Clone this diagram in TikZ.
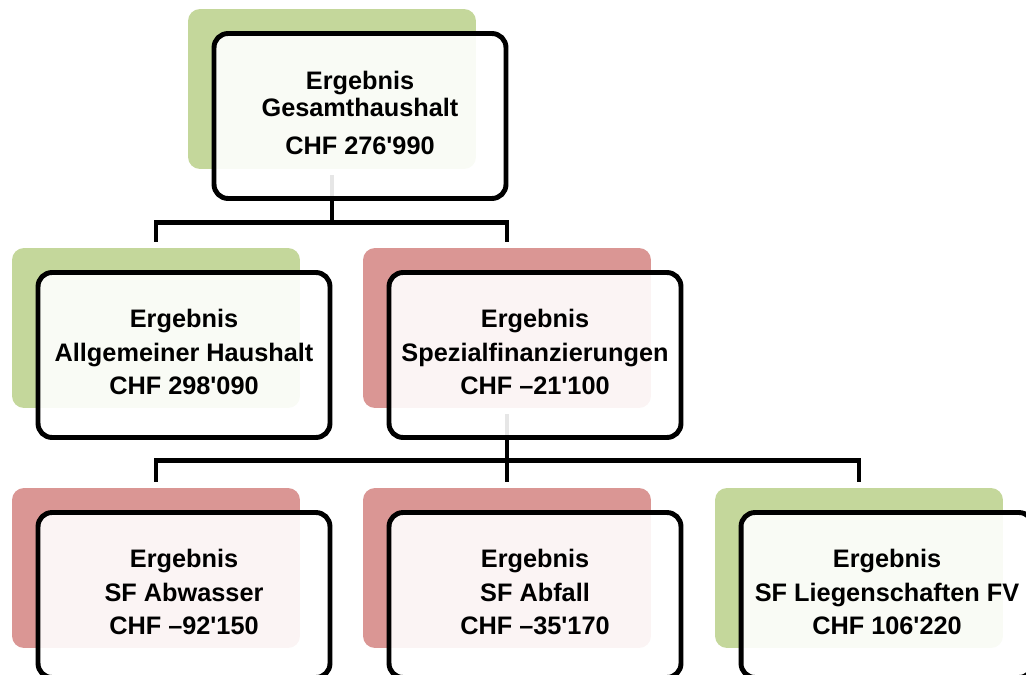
\documentclass[tikz,border=0pt]{standalone}
\usepackage{fontspec}
\setmainfont{Liberation Sans}[Ligatures=TeXOff]
\definecolor{plusgreen}{HTML}{C4D79B}
\definecolor{minusred}{HTML}{DA9694}

\begin{document}
\begin{tikzpicture}[x=0.02cm, y=-0.02cm,
  back/.style={rectangle, rounded corners=0.24cm, inner sep=0pt,
    minimum width=5.76cm, minimum height=3.2cm},
  front/.style={rectangle, draw=black, line width=2.8pt, rounded corners=0.28cm,
    fill=white, fill opacity=0.9, text opacity=1, inner sep=0pt,
    minimum width=5.84cm, minimum height=3.3cm, align=center, text depth=3.6pt,
    font=\bfseries\fontsize{14.4pt}{19.3pt}\selectfont},
  link/.style={line width=2.5pt, shorten <=0.12cm, shorten >=0.12cm}]
\clip (0,0) rectangle (1026,675);
% coloured boxes behind
\node [back, fill=plusgreen] (ges) at (332,89) {};
\node [back, fill=plusgreen] (allg) at (156,328) {};
\node [back, fill=minusred] (spez) at (507,328) {};
\node [back, fill=minusred] (abw) at (156,568) {};
\node [back, fill=minusred] (abf) at (507,568) {};
\node [back, fill=plusgreen] (lieg) at (859,568) {};
% connectors
\draw [link] (ges.south) -- ++(0,53) -| (allg.north);
\draw [link] (ges.south) -- ++(0,53) -| (spez.north);
\draw [link] (spez.south) -- ++(0,52) -| (abw.north);
\draw [link] (spez.south) -- (abf.north);
\draw [link] (spez.south) -- ++(0,52) -| (lieg.north);
% framed boxes with the results
\node [front] (gesF) at ([shift={(28,27)}]ges.center) {Ergebnis\\[-4pt]Gesamthaushalt\\[2.2pt]CHF 276'990};
\node [front] (allgF) at ([shift={(28,27)}]allg.center) {Ergebnis\\Allgemeiner Haushalt\\CHF 298'090};
\node [front] (spezF) at ([shift={(28,27)}]spez.center) {Ergebnis\\Spezialfinanzierungen\\CHF –21'100};
\node [front] (abwF) at ([shift={(28,27)}]abw.center) {Ergebnis\\SF Abwasser\\CHF –92'150};
\node [front] (abfF) at ([shift={(28,27)}]abf.center) {Ergebnis\\SF Abfall\\CHF –35'170};
\node [front] (liegF) at ([shift={(28,27)}]lieg.center) {Ergebnis\\SF Liegenschaften FV\\CHF 106'220};
\end{tikzpicture}
\end{document}
